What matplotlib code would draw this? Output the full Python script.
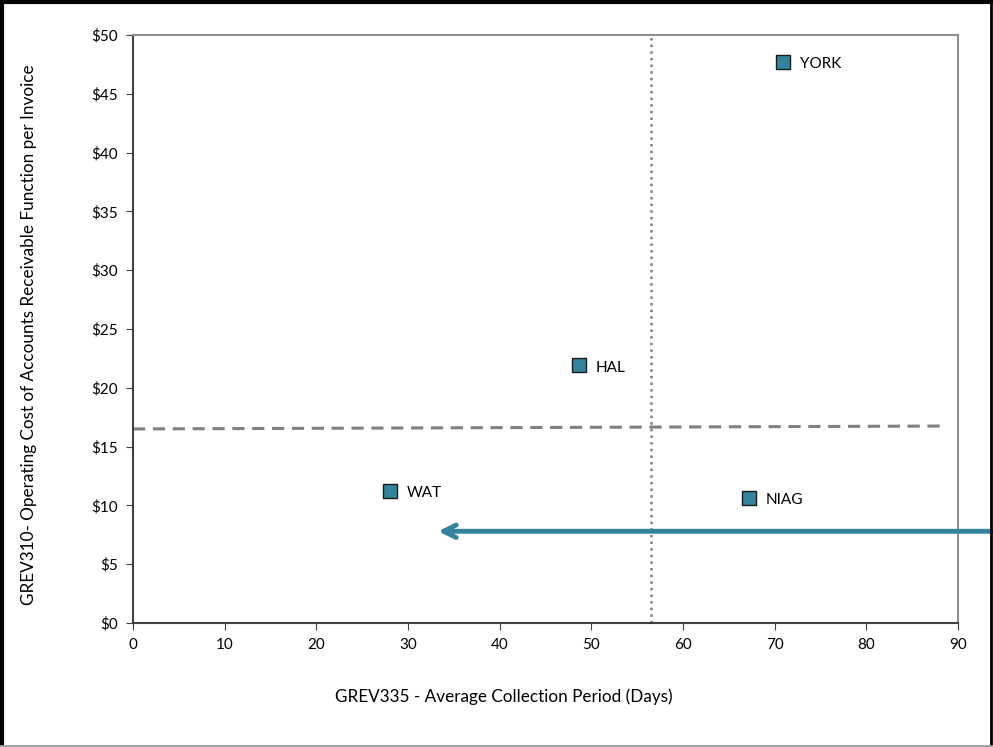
import matplotlib.pyplot as plt

# data
cities = ["YORK", "HAL", "WAT", "NIAG"]
collection_days = [70.9, 48.7, 28.0, 67.2]
cost_per_invoice = [47.7, 21.9, 11.2, 10.6]

median_days = 56.5
cost_line_x = [0, 88.6]
cost_line_y = [16.5, 16.75]

arrow_start = (94.0, 7.8)
arrow_end = (33.3, 7.8)

TEAL = "#31849B"
plt.rcParams["font.family"] = ["Lato", "DejaVu Sans"]

fig = plt.figure(figsize=(9.93, 7.47), dpi=100)
ax = fig.add_axes([133 / 993, 1 - 623 / 747, (958 - 133) / 993, (623 - 35) / 747])

ax.plot([median_days, median_days], [0, 50], color="#808080", linestyle=":", linewidth=1.8)
ax.plot(cost_line_x, cost_line_y, color="#808080", linestyle=(0, (4, 2.5)), linewidth=2.2)

ax.scatter(collection_days, cost_per_invoice, marker="s", s=100, color=TEAL,
           edgecolors="#1a1a1a", linewidths=1.0, zorder=3)
for name, x, y in zip(cities, collection_days, cost_per_invoice):
    ax.annotate(name, (x, y), xytext=(12, -1.5), textcoords="offset points",
                va="center", ha="left", fontsize=11)

ax.annotate("", xy=arrow_end, xytext=arrow_start, annotation_clip=False,
            arrowprops=dict(arrowstyle="->,head_length=0.9,head_width=0.45",
                            color=TEAL, linewidth=3.5, shrinkA=0, shrinkB=0))

ax.set_xlim(0, 90)
ax.set_ylim(0, 50)
ax.set_xticks(range(0, 91, 10))
ax.set_yticks(range(0, 51, 5))
ax.set_yticklabels([f"${v}" for v in range(0, 51, 5)])
ax.tick_params(direction="out", length=5, color="#404040", labelsize=11, pad=6)
for side in ["left", "bottom"]:
    ax.spines[side].set_color("#404040")
    ax.spines[side].set_linewidth(1.5)
for side in ["top", "right"]:
    ax.spines[side].set_color("#909090")
    ax.spines[side].set_linewidth(1.5)

ax.set_xlabel("GREV335 - Average Collection Period (Days)", fontsize=12.3)
ax.set_ylabel("GREV310- Operating Cost of Accounts Receivable Function per Invoice",
              fontsize=12.3)
ax.xaxis.set_label_coords(0.45, -0.112)
ax.yaxis.set_label_coords(-0.116, 0.49)

# outer frame of the chart: dark on left/top/right, grey along the bottom
frame = dict(transform=fig.transFigure, color="black", linewidth=3)
fig.add_artist(plt.Line2D([0.002, 0.002], [0.002, 0.998], **frame))
fig.add_artist(plt.Line2D([0.0, 0.998], [0.997, 0.997], **frame))
fig.add_artist(plt.Line2D([0.998, 0.998], [0.002, 0.998], transform=fig.transFigure,
                          color="black", linewidth=2))
fig.add_artist(plt.Line2D([0.0, 1.0], [0.002, 0.002], transform=fig.transFigure,
                          color="#a0a0a0", linewidth=2))

fig.savefig("out.png", dpi=100)
